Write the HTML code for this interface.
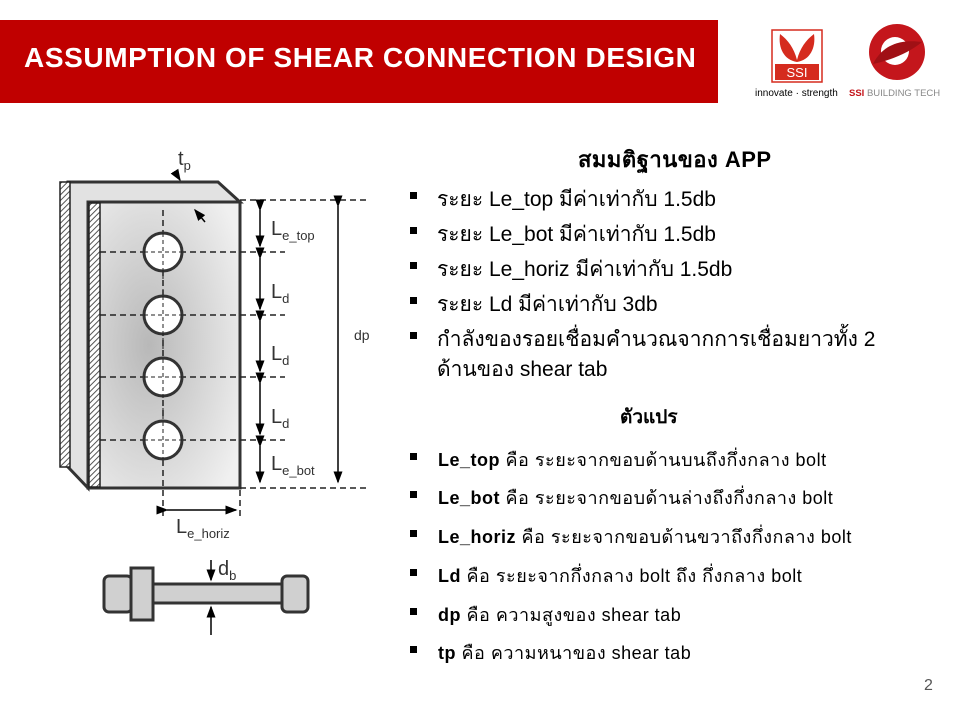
<!DOCTYPE html>
<html><head><meta charset="utf-8"><style>
body{margin:0;width:960px;height:720px;background:#fff;position:relative;overflow:hidden;font-family:"Liberation Sans","Noto Sans CJK SC",sans-serif;color:#000}
.bar{position:absolute;left:0;top:20px;width:718px;height:83px;background:#c00000}
.title{position:absolute;left:24px;top:42px;color:#fff;font-weight:bold;font-size:28px;letter-spacing:0.6px}
.t{position:absolute;white-space:nowrap}
.b1{font-size:21px}
.b2{font-size:18px;letter-spacing:0.5px}
.sq{position:absolute;width:7px;height:7px;background:#000}
</style></head><body>
<div class="bar"></div>
<div class="title">ASSUMPTION OF SHEAR CONNECTION DESIGN</div>
<svg style="position:absolute;left:740px;top:20px" width="220" height="90">
<rect x="32" y="10" width="50" height="52" fill="#fff" stroke="#d52b1e" stroke-width="1.5"/>
<path d="M57 42 C44 40 38 28 40 14 C48 20 54 28 57 40 C60 28 66 20 74 14 C76 28 70 40 57 42Z" fill="#d52b1e"/>
<rect x="35" y="44" width="44" height="16" fill="#d52b1e"/>
<text x="57" y="57" font-size="13" fill="#fff" text-anchor="middle" font-family="Liberation Sans">SSI</text>
<text x="15" y="76" font-size="10" font-family="Liberation Sans">innovate · strength</text>
<circle cx="157" cy="32" r="28" fill="#c4161c"/>
<circle cx="155" cy="31" r="14" fill="#fff"/>
<path d="M133 44 C145 20 168 20 182 22 C170 32 152 40 133 44Z" fill="#a01015"/>
<text x="109" y="76" font-size="9.5" font-family="Liberation Sans" fill="#888"><tspan fill="#c4161c" font-weight="bold">SSI</tspan> BUILDING TECH</text>
</svg>
<svg style="position:absolute;left:0;top:0" width="400" height="720">
<defs>
<pattern id="h" width="4" height="4" patternUnits="userSpaceOnUse" patternTransform="rotate(45)"><rect width="4" height="4" fill="#fff"/><line x1="0" y1="0" x2="0" y2="4" stroke="#555" stroke-width="2"/></pattern>
<radialGradient id="g" cx="0.4" cy="0.5" r="0.7"><stop offset="0" stop-color="#b8b8b8"/><stop offset="1" stop-color="#f0f0f0"/></radialGradient>
<marker id="a" markerWidth="8" markerHeight="8" refX="7" refY="4" orient="auto"><path d="M0,1 L8,4 L0,7Z" fill="#000"/></marker>
</defs>
<polygon points="68,182 218,182 240,202 88,202 88,488 68,467" fill="#e2e2e2" stroke="#333" stroke-width="3"/>
<rect x="60" y="182" width="10" height="285" fill="url(#h)" stroke="#222" stroke-width="1.5"/>
<rect x="88" y="202" width="152" height="286" fill="url(#g)" stroke="#333" stroke-width="3"/>
<rect x="89" y="203" width="11" height="284" fill="url(#h)" stroke="#222" stroke-width="1.5"/>
<g stroke="#222" stroke-width="1.5" stroke-dasharray="6,4" fill="none">
<line x1="163" y1="210" x2="163" y2="520"/>
<line x1="240" y1="200" x2="370" y2="200" />
<line x1="240" y1="488" x2="370" y2="488"/>
<line x1="100" y1="252" x2="285" y2="252"/>
<line x1="100" y1="315" x2="285" y2="315"/>
<line x1="100" y1="377" x2="285" y2="377"/>
<line x1="100" y1="440" x2="285" y2="440"/>
<line x1="240" y1="490" x2="240" y2="520"/>
</g>
<g fill="#fff" stroke="#333" stroke-width="3">
<circle cx="163" cy="252" r="19"/><circle cx="163" cy="315" r="19"/><circle cx="163" cy="377" r="19"/><circle cx="163" cy="440" r="19"/>
</g>
<g stroke="#222" stroke-width="1" stroke-dasharray="4,3"><line x1="163" y1="233" x2="163" y2="459"/><line x1="144" y1="252" x2="182" y2="252"/><line x1="144" y1="315" x2="182" y2="315"/><line x1="144" y1="377" x2="182" y2="377"/><line x1="144" y1="440" x2="182" y2="440"/></g>
<g stroke="#000" stroke-width="1.5" marker-end="url(#a)" marker-start="url(#a)" fill="none">
<path d="M260 210 L260 246"/><path d="M260 258 L260 309"/><path d="M260 321 L260 371"/><path d="M260 383 L260 434"/><path d="M260 446 L260 482"/>
<path d="M338 206 L338 482"/><path d="M167 510 L236 510"/>
</g>
<g stroke="#000" stroke-width="1.5" marker-end="url(#a)" fill="none">
<path d="M175 172 L180 180"/><path d="M205 222 L195 210"/>
<path d="M211 560 L211 580"/><path d="M211 635 L211 607"/>
</g>
<g font-family="Liberation Sans" font-size="20" fill="#333">
<text x="178" y="165">t<tspan font-size="13" dy="5">p</tspan></text>
<text x="271" y="235">L<tspan font-size="13" dy="5">e_top</tspan></text>
<text x="271" y="298">L<tspan font-size="13" dy="5">d</tspan></text>
<text x="271" y="360">L<tspan font-size="13" dy="5">d</tspan></text>
<text x="271" y="423">L<tspan font-size="13" dy="5">d</tspan></text>
<text x="271" y="470">L<tspan font-size="13" dy="5">e_bot</tspan></text>
<text x="354" y="340" font-size="14">dp</text>
<text x="176" y="533">L<tspan font-size="13" dy="5">e_horiz</tspan></text>
<text x="218" y="575">d<tspan font-size="13" dy="5">b</tspan></text>
</g>
<g stroke="#333" stroke-width="3" fill="#d0d0d0">
<rect x="153" y="584" width="132" height="19"/>
<rect x="104" y="576" width="28" height="36" rx="5"/>
<rect x="131" y="568" width="22" height="52"/>
<rect x="282" y="576" width="26" height="36" rx="5"/>
</g>
</svg>
<div class="t" style="left:578px;top:142px;font-size:22px;font-weight:bold;letter-spacing:0.5px">สมมติฐานของ APP</div>
<div class="sq" style="left:410px;top:192px"></div><div class="t b1" style="left:437px;top:183px">ระยะ Le_top มีค่าเท่ากับ 1.5db</div>
<div class="sq" style="left:410px;top:227px"></div><div class="t b1" style="left:437px;top:218px">ระยะ Le_bot มีค่าเท่ากับ 1.5db</div>
<div class="sq" style="left:410px;top:262px"></div><div class="t b1" style="left:437px;top:253px">ระยะ Le_horiz มีค่าเท่ากับ 1.5db</div>
<div class="sq" style="left:410px;top:297px"></div><div class="t b1" style="left:437px;top:288px">ระยะ Ld มีค่าเท่ากับ 3db</div>
<div class="sq" style="left:410px;top:332px"></div><div class="t b1" style="left:437px;top:323px">กำลังของรอยเชื่อมคำนวณจากการเชื่อมยาวทั้ง 2</div>
<div class="t b1" style="left:437px;top:353px">ด้านของ shear tab</div>
<div class="t" style="left:620px;top:402px;font-size:19px;font-weight:bold">ตัวแปร</div>
<div class="sq" style="left:410px;top:453px"></div><div class="t b2" style="left:438px;top:445px"><b>Le_top</b> คือ ระยะจากขอบด้านบนถึงกึ่งกลาง bolt</div>
<div class="sq" style="left:410px;top:491px"></div><div class="t b2" style="left:438px;top:483px"><b>Le_bot</b> คือ ระยะจากขอบด้านล่างถึงกึ่งกลาง bolt</div>
<div class="sq" style="left:410px;top:530px"></div><div class="t b2" style="left:438px;top:522px"><b>Le_horiz</b> คือ ระยะจากขอบด้านขวาถึงกึ่งกลาง bolt</div>
<div class="sq" style="left:410px;top:569px"></div><div class="t b2" style="left:438px;top:561px"><b>Ld</b> คือ ระยะจากกึ่งกลาง bolt ถึง กึ่งกลาง bolt</div>
<div class="sq" style="left:410px;top:608px"></div><div class="t b2" style="left:438px;top:600px"><b>dp</b> คือ ความสูงของ shear tab</div>
<div class="sq" style="left:410px;top:646px"></div><div class="t b2" style="left:438px;top:638px"><b>tp</b> คือ ความหนาของ shear tab</div>
<div class="t" style="left:924px;top:677px;font-size:16px;color:#555">2</div>
</body></html>
